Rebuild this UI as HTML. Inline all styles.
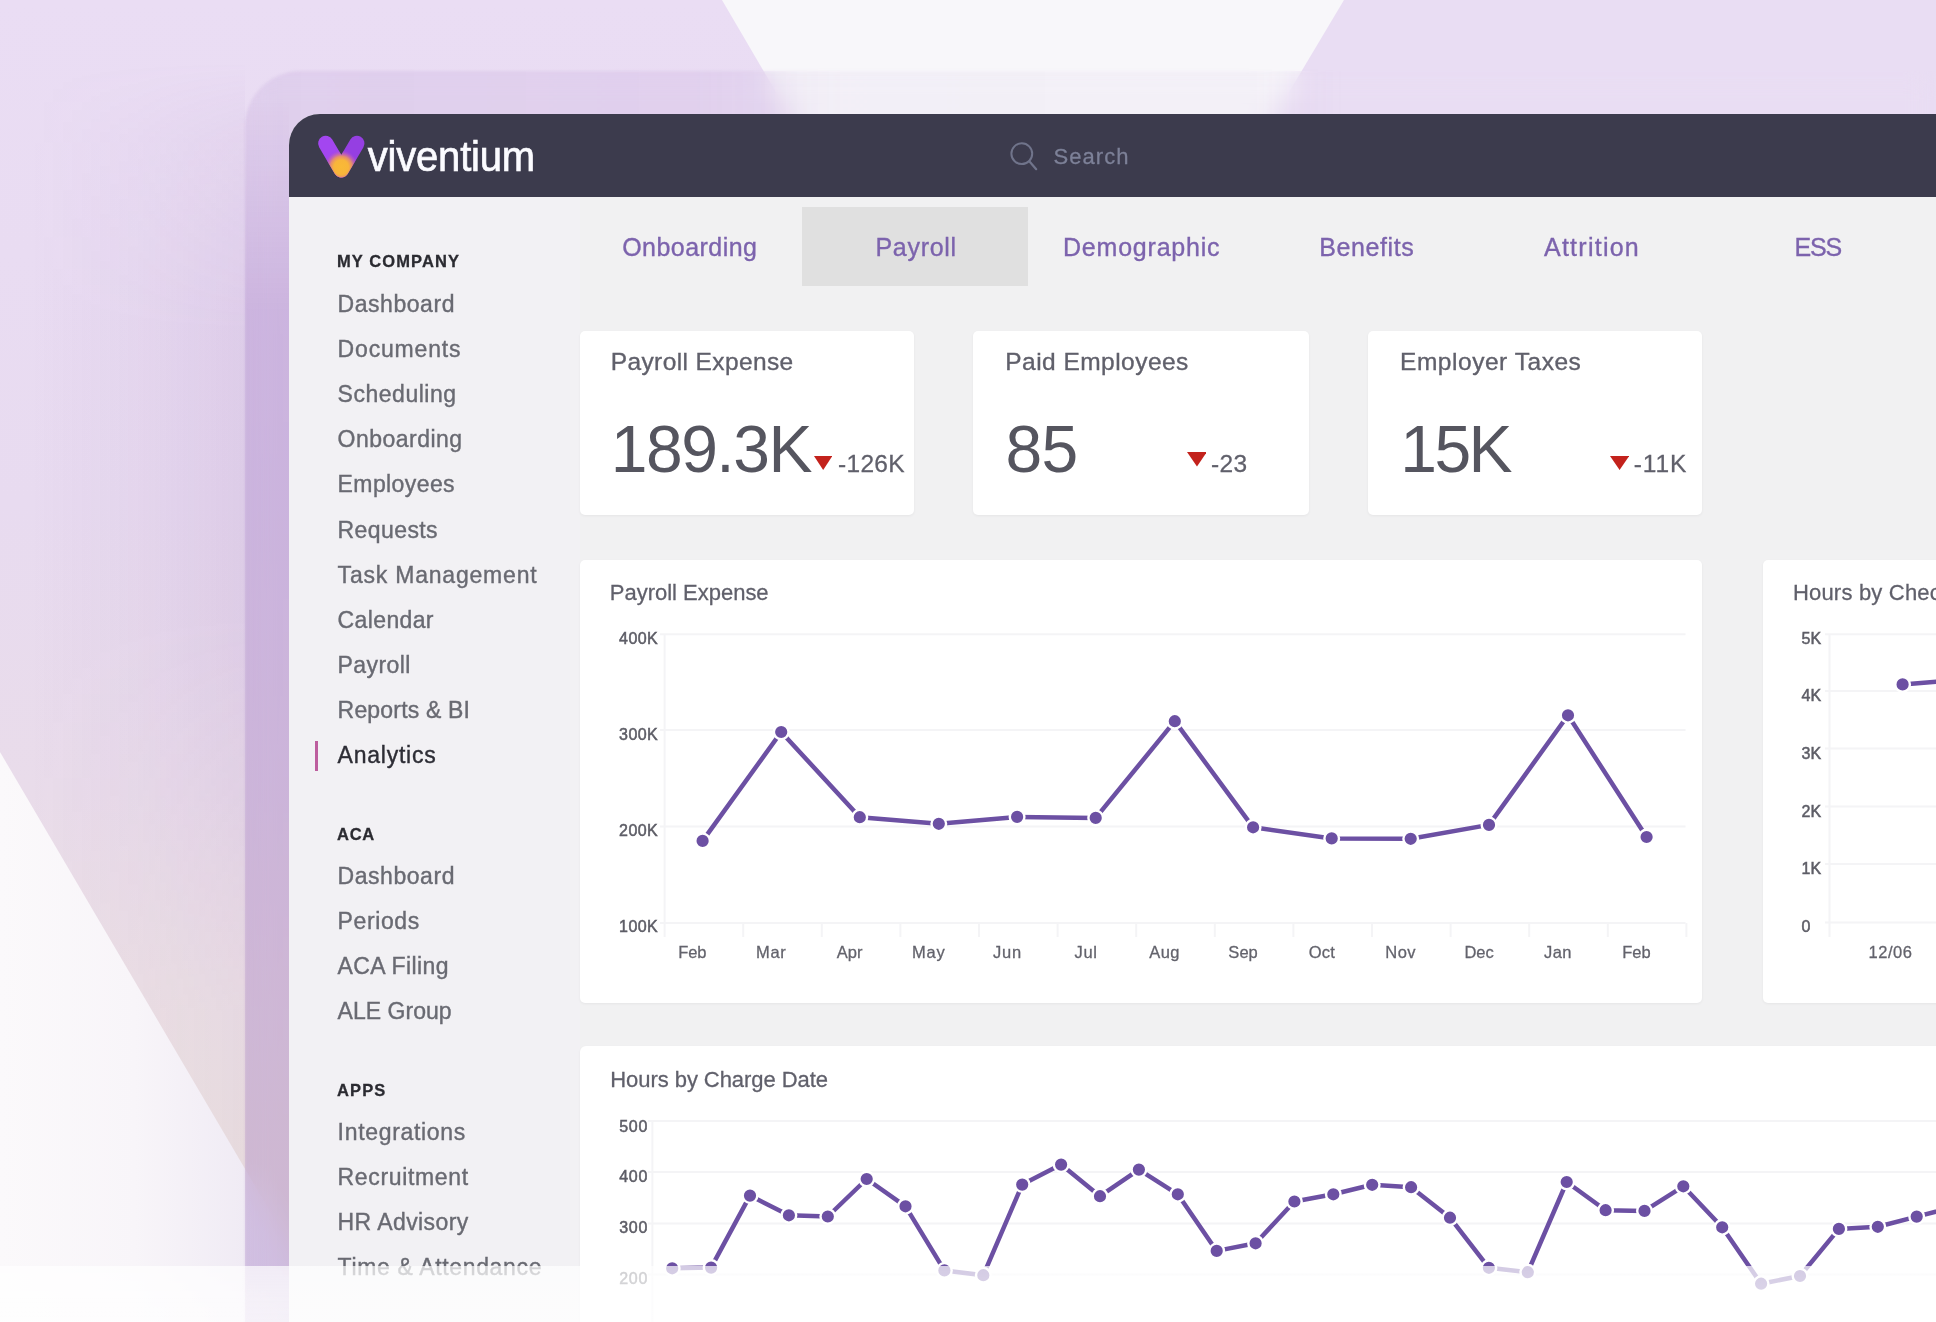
<!DOCTYPE html>
<html lang="en"><head><meta charset="utf-8"><title>Viventium Analytics – Payroll</title>
<style>
*{box-sizing:border-box;margin:0;padding:0}
html,body{width:1936px;height:1322px;overflow:hidden;background:#f8f7fa}
body{position:relative;font-family:"Liberation Sans",sans-serif;}
.a{position:absolute;display:block}
.t{position:absolute;white-space:nowrap;line-height:1;font-family:"Liberation Sans",sans-serif;-webkit-text-stroke:.28px currentColor}
#bg{position:absolute;left:0;top:0;width:1936px;height:1322px}
#glass{position:absolute;left:245px;top:70.5px;width:1800px;height:1400px;border-top-left-radius:56px;
  -webkit-backdrop-filter:blur(14px);backdrop-filter:blur(14px)}
#gtint{position:absolute;left:245px;top:70.5px;width:1800px;height:1400px;border-top-left-radius:56px;filter:blur(1.6px);
  background:linear-gradient(90deg,rgba(150,108,190,.125) 0,rgba(150,108,190,.11) 450px,rgba(150,108,190,.055) 600px,rgba(150,108,190,.05) 1000px,rgba(150,108,190,0) 1100px)}
#winsh{position:absolute;left:0;top:0;width:44px;height:1400px;
  background:linear-gradient(180deg,rgba(125,70,170,0) 0,rgba(125,70,170,0) 30px,rgba(125,70,170,.02) 48px,rgba(125,70,170,.19) 240px,rgba(125,70,170,.19) 100%)}
#shclip{position:absolute;left:245px;top:70.5px;width:1800px;height:1400px;border-top-left-radius:56px;overflow:hidden}
#win{position:absolute;left:288.6px;top:114px;width:1800px;height:1400px;border-top-left-radius:31px;background:#f1f1f2;overflow:hidden}
#hdr{position:absolute;left:0;top:0;width:100%;height:83.3px;background:#3c3b4d}
#side{position:absolute;left:0;top:83.3px;width:291px;height:1400px;background:#f2f1f4}
.card{position:absolute;background:#fff;border-radius:5px;box-shadow:0 1px 3px rgba(0,0,0,.05)}
#tabsel{position:absolute;left:802.3px;top:206.5px;width:225.5px;height:79.5px;background:#e0e0e0}
#mark{position:absolute;left:314.5px;top:741px;width:3.6px;height:29.5px;background:#bd5e9e}
#fade{position:absolute;left:0;top:1265.8px;width:1936px;height:60px;background:linear-gradient(180deg,rgba(255,255,255,.70) 0,rgba(255,255,255,.76) 30px,rgba(255,255,255,.79) 100%)}
</style></head><body>
<svg id="bg" class="a" width="1936" height="1322" viewBox="0 0 1936 1322">
<defs>
<linearGradient id="gL" x1="0" y1="0" x2="0" y2="1322" gradientUnits="userSpaceOnUse">
<stop offset="0" stop-color="#eaddf4"/><stop offset=".38" stop-color="#e8dbf0"/><stop offset=".60" stop-color="#e9dcea"/><stop offset=".74" stop-color="#ebdfe5"/><stop offset=".88" stop-color="#ece1e0"/><stop offset="1" stop-color="#ece1e0"/>
</linearGradient>
<linearGradient id="gSh" x1="30" y1="0" x2="245" y2="0" gradientUnits="userSpaceOnUse">
<stop offset="0" stop-color="#9060b0" stop-opacity="0"/><stop offset=".5" stop-color="#9060b0" stop-opacity=".045"/><stop offset="1" stop-color="#9060b0" stop-opacity=".12"/>
</linearGradient>
<linearGradient id="gShV" x1="0" y1="62" x2="0" y2="1062" gradientUnits="userSpaceOnUse">
<stop offset="0" stop-color="#fff" stop-opacity="0"/><stop offset=".08" stop-color="#fff" stop-opacity=".5"/><stop offset=".27" stop-color="#fff" stop-opacity="1"/><stop offset=".55" stop-color="#fff" stop-opacity="1"/><stop offset=".95" stop-color="#fff" stop-opacity=".4"/><stop offset="1" stop-color="#fff" stop-opacity=".4"/>
</linearGradient>
<mask id="mSh" maskUnits="userSpaceOnUse" x="0" y="0" width="245" height="1322"><rect x="0" y="0" width="245" height="1322" fill="url(#gShV)"/></mask>
<linearGradient id="gW" x1="0" y1="0" x2="300" y2="0" gradientUnits="userSpaceOnUse">
<stop offset="0" stop-color="#fbf9fb"/><stop offset=".45" stop-color="#f8f5f9"/><stop offset="1" stop-color="#ece6f2"/>
</linearGradient>
</defs>
<rect width="1936" height="1322" fill="#f8f7fa"/>
<polygon points="0,0 722,0 1497,1322 0,1322" fill="url(#gL)"/>
<rect x="0" y="0" width="245" height="1322" fill="url(#gSh)" mask="url(#mSh)"/>
<polygon points="0,752 335,1322 0,1322" fill="url(#gW)"/>
<polygon points="1344,0 1936,0 1936,1322 555,1322" fill="#e9ddf3"/>
</svg>
<div id="glass"></div><div id="gtint"></div><div id="shclip"><div id="winsh"></div></div>
<div id="win"><div id="hdr"></div><div id="side"></div></div>
<svg class="a" style="left:300px;top:120px" width="260" height="70" viewBox="300 120 260 70">
<defs>
<radialGradient id="vg3" cx="341.3" cy="167.2" r="17.5" gradientUnits="userSpaceOnUse">
<stop offset="0" stop-color="#f9ba36"/><stop offset=".42" stop-color="#f8b53a"/><stop offset=".62" stop-color="#ec9660" stop-opacity=".92"/><stop offset=".82" stop-color="#c865b0" stop-opacity=".55"/><stop offset="1" stop-color="#a048e0" stop-opacity="0"/>
</radialGradient>
<mask id="vm" maskUnits="userSpaceOnUse" x="300" y="120" width="80" height="70"><path d="M325.7 143.3 L341.3 169.9 L356.9 143.3" fill="none" stroke="#fff" stroke-width="15.2" stroke-linecap="round" stroke-linejoin="round"/></mask>
</defs>
<path d="M356.9 143.3 L341.3 169.9" fill="none" stroke="#953fe2" stroke-width="15.2" stroke-linecap="round"/>
<path d="M325.7 143.3 L341.3 169.9" fill="none" stroke="#a346f0" stroke-width="15.2" stroke-linecap="round"/>
<rect x="300" y="120" width="80" height="70" fill="url(#vg3)" mask="url(#vm)"/>
<text x="0" y="0" transform="translate(367.7 171.3) scale(.942 1)" font-family="Liberation Sans, sans-serif" font-size="42.5" fill="#fbfbff" stroke="#fbfbff" stroke-width=".7" letter-spacing="-.2">viventium</text>
</svg>
<svg class="a" style="left:1000px;top:135px" width="50" height="45" viewBox="1000 135 50 45">
<circle cx="1021.8" cy="153.7" r="10.4" fill="none" stroke="#70748b" stroke-width="2"/>
<line x1="1029.3" y1="161.3" x2="1036.2" y2="169.2" stroke="#70748b" stroke-width="2.2" stroke-linecap="round"/>
</svg><span class="t" style="left:1053.50px;top:145.58px;font-size:22px;color:#7d8198;letter-spacing:1.049px;">Search</span>
<div id="tabsel"></div>
<span class="t" style="left:622.20px;top:234.84px;font-size:25px;color:#7c63ad;letter-spacing:0.455px;-webkit-text-stroke:.35px currentColor;">Onboarding</span><span class="t" style="left:875.40px;top:234.84px;font-size:25px;color:#7c63ad;letter-spacing:0.726px;-webkit-text-stroke:.35px currentColor;">Payroll</span><span class="t" style="left:1063.00px;top:234.84px;font-size:25px;color:#7c63ad;letter-spacing:0.792px;-webkit-text-stroke:.35px currentColor;">Demographic</span><span class="t" style="left:1319.20px;top:234.84px;font-size:25px;color:#7c63ad;letter-spacing:0.621px;-webkit-text-stroke:.35px currentColor;">Benefits</span><span class="t" style="left:1544.00px;top:234.84px;font-size:25px;color:#7c63ad;letter-spacing:1.250px;-webkit-text-stroke:.35px currentColor;">Attrition</span><span class="t" style="left:1794.50px;top:234.84px;font-size:25px;color:#7c63ad;letter-spacing:-1.208px;-webkit-text-stroke:.35px currentColor;">ESS</span>
<div id="mark"></div>
<span class="t" style="left:337.60px;top:292.63px;font-size:23px;color:#696a72;letter-spacing:0.542px;-webkit-text-stroke:.38px currentColor;">Dashboard</span><span class="t" style="left:337.60px;top:337.81px;font-size:23px;color:#696a72;letter-spacing:0.830px;-webkit-text-stroke:.38px currentColor;">Documents</span><span class="t" style="left:337.60px;top:382.99px;font-size:23px;color:#696a72;letter-spacing:0.519px;-webkit-text-stroke:.38px currentColor;">Scheduling</span><span class="t" style="left:337.60px;top:428.17px;font-size:23px;color:#696a72;letter-spacing:0.470px;-webkit-text-stroke:.38px currentColor;">Onboarding</span><span class="t" style="left:337.60px;top:473.35px;font-size:23px;color:#696a72;letter-spacing:0.403px;-webkit-text-stroke:.38px currentColor;">Employees</span><span class="t" style="left:337.60px;top:518.53px;font-size:23px;color:#696a72;letter-spacing:0.404px;-webkit-text-stroke:.38px currentColor;">Requests</span><span class="t" style="left:337.60px;top:563.71px;font-size:23px;color:#696a72;letter-spacing:0.791px;-webkit-text-stroke:.38px currentColor;">Task Management</span><span class="t" style="left:337.60px;top:608.89px;font-size:23px;color:#696a72;letter-spacing:0.370px;-webkit-text-stroke:.38px currentColor;">Calendar</span><span class="t" style="left:337.60px;top:654.07px;font-size:23px;color:#696a72;letter-spacing:0.414px;-webkit-text-stroke:.38px currentColor;">Payroll</span><span class="t" style="left:337.60px;top:699.25px;font-size:23px;color:#696a72;letter-spacing:0.184px;-webkit-text-stroke:.38px currentColor;">Reports &amp; BI</span><span class="t" style="left:337.60px;top:744.43px;font-size:23px;color:#2d2d35;letter-spacing:0.752px;-webkit-text-stroke:.38px currentColor;">Analytics</span><span class="t" style="left:337.60px;top:864.83px;font-size:23px;color:#696a72;letter-spacing:0.542px;-webkit-text-stroke:.38px currentColor;">Dashboard</span><span class="t" style="left:337.60px;top:910.01px;font-size:23px;color:#696a72;letter-spacing:0.602px;-webkit-text-stroke:.38px currentColor;">Periods</span><span class="t" style="left:337.60px;top:955.19px;font-size:23px;color:#696a72;letter-spacing:0.392px;-webkit-text-stroke:.38px currentColor;">ACA Filing</span><span class="t" style="left:337.60px;top:1000.37px;font-size:23px;color:#696a72;letter-spacing:0.024px;-webkit-text-stroke:.38px currentColor;">ALE Group</span><span class="t" style="left:337.60px;top:1120.73px;font-size:23px;color:#696a72;letter-spacing:0.676px;-webkit-text-stroke:.38px currentColor;">Integrations</span><span class="t" style="left:337.60px;top:1165.91px;font-size:23px;color:#696a72;letter-spacing:0.647px;-webkit-text-stroke:.38px currentColor;">Recruitment</span><span class="t" style="left:337.60px;top:1211.09px;font-size:23px;color:#696a72;letter-spacing:0.415px;-webkit-text-stroke:.38px currentColor;">HR Advisory</span><span class="t" style="left:337.60px;top:1256.27px;font-size:23px;color:#696a72;letter-spacing:0.648px;-webkit-text-stroke:.38px currentColor;">Time &amp; Attendance</span><span class="t" style="left:337.00px;top:253.03px;font-size:16.5px;color:#2b2b31;letter-spacing:1.085px;font-weight:700;">MY COMPANY</span><span class="t" style="left:337.00px;top:825.53px;font-size:16.5px;color:#2b2b31;letter-spacing:0.751px;font-weight:700;">ACA</span><span class="t" style="left:337.00px;top:1081.53px;font-size:16.5px;color:#2b2b31;letter-spacing:1.142px;font-weight:700;">APPS</span>
<div class="card" style="left:580.3px;top:330.5px;width:333.30000000000007px;height:184.5px"></div><span class="t" style="left:610.70px;top:349.86px;font-size:24.5px;color:#60606b;letter-spacing:0.391px;-webkit-text-stroke:.35px currentColor;">Payroll Expense</span><span class="t" style="left:610.80px;top:416.23px;font-size:66px;color:#55555f;letter-spacing:-1.514px;-webkit-text-stroke:0;">189.3K</span><svg class="a" style="left:814.1px;top:456.3px" width="18.4" height="13.9"><polygon points="0,0 18.4,0 9.2,13.9" fill="#c3221c"/></svg><span class="t" style="left:838.10px;top:452.06px;font-size:24.5px;color:#60606b;letter-spacing:0.264px;">-126K</span><div class="card" style="left:973.4px;top:330.5px;width:335.19999999999993px;height:184.5px"></div><span class="t" style="left:1005.30px;top:349.86px;font-size:24.5px;color:#60606b;letter-spacing:0.461px;-webkit-text-stroke:.35px currentColor;">Paid Employees</span><span class="t" style="left:1005.40px;top:415.63px;font-size:66px;color:#55555f;letter-spacing:-0.506px;-webkit-text-stroke:0;">85</span><svg class="a" style="left:1186.5px;top:452.4px" width="19.9" height="14.5"><polygon points="0,0 19.9,0 10.0,14.5" fill="#c3221c"/></svg><span class="t" style="left:1211.00px;top:452.06px;font-size:24.5px;color:#60606b;letter-spacing:0.330px;">-23</span><div class="card" style="left:1367.6px;top:330.5px;width:334.70000000000005px;height:184.5px"></div><span class="t" style="left:1400.00px;top:349.86px;font-size:24.5px;color:#60606b;letter-spacing:0.540px;-webkit-text-stroke:.35px currentColor;">Employer Taxes</span><span class="t" style="left:1400.20px;top:415.63px;font-size:66px;color:#55555f;letter-spacing:-2.512px;-webkit-text-stroke:0;">15K</span><svg class="a" style="left:1610.1px;top:456.3px" width="19.2" height="13.9"><polygon points="0,0 19.2,0 9.6,13.9" fill="#c3221c"/></svg><span class="t" style="left:1633.80px;top:452.06px;font-size:24.5px;color:#60606b;letter-spacing:0.892px;">-11K</span>
<div class="card" style="left:580.3px;top:560.4px;width:1122.2px;height:442.4px"></div><div class="card" style="left:1763.3px;top:560.4px;width:300px;height:442.4px"></div><div class="card" style="left:579.8px;top:1046.2px;width:1500px;height:400px;border-radius:6px"></div>
<svg class="a" style="left:0;top:0" width="1936" height="1322" viewBox="0 0 1936 1322"><line x1="660" y1="634.2" x2="1685.5" y2="634.2" stroke="#f4f4f6" stroke-width="2"/><line x1="660" y1="729.9" x2="1685.5" y2="729.9" stroke="#f4f4f6" stroke-width="2"/><line x1="660" y1="826.6" x2="1685.5" y2="826.6" stroke="#f4f4f6" stroke-width="2"/><line x1="660" y1="923.0" x2="1685.5" y2="923.0" stroke="#f4f4f6" stroke-width="2"/><line x1="664.6" y1="634" x2="664.6" y2="937" stroke="#f4f4f6" stroke-width="2"/><line x1="743.2" y1="923" x2="743.2" y2="937" stroke="#f4f4f6" stroke-width="2"/><line x1="821.8" y1="923" x2="821.8" y2="937" stroke="#f4f4f6" stroke-width="2"/><line x1="900.4" y1="923" x2="900.4" y2="937" stroke="#f4f4f6" stroke-width="2"/><line x1="979.0" y1="923" x2="979.0" y2="937" stroke="#f4f4f6" stroke-width="2"/><line x1="1057.6" y1="923" x2="1057.6" y2="937" stroke="#f4f4f6" stroke-width="2"/><line x1="1136.2" y1="923" x2="1136.2" y2="937" stroke="#f4f4f6" stroke-width="2"/><line x1="1214.8" y1="923" x2="1214.8" y2="937" stroke="#f4f4f6" stroke-width="2"/><line x1="1293.4" y1="923" x2="1293.4" y2="937" stroke="#f4f4f6" stroke-width="2"/><line x1="1372.0" y1="923" x2="1372.0" y2="937" stroke="#f4f4f6" stroke-width="2"/><line x1="1450.6" y1="923" x2="1450.6" y2="937" stroke="#f4f4f6" stroke-width="2"/><line x1="1529.2" y1="923" x2="1529.2" y2="937" stroke="#f4f4f6" stroke-width="2"/><line x1="1607.8" y1="923" x2="1607.8" y2="937" stroke="#f4f4f6" stroke-width="2"/><line x1="1686.4" y1="923" x2="1686.4" y2="937" stroke="#f4f4f6" stroke-width="2"/><polyline fill="none" stroke="#6c50a3" stroke-width="4.5" stroke-linejoin="round" stroke-linecap="round" points="702.6,840.9 781.2,732.0 859.8,817.2 938.8,823.8 1017.1,816.9 1095.7,817.9 1174.8,721.2 1253.1,827.3 1331.7,838.4 1410.7,838.8 1489.0,824.9 1568.0,715.3 1646.6,837.0"/><circle cx="702.6" cy="840.9" r="7.3" fill="#6c50a3" stroke="#fff" stroke-width="2.4"/><circle cx="781.2" cy="732.0" r="7.3" fill="#6c50a3" stroke="#fff" stroke-width="2.4"/><circle cx="859.8" cy="817.2" r="7.3" fill="#6c50a3" stroke="#fff" stroke-width="2.4"/><circle cx="938.8" cy="823.8" r="7.3" fill="#6c50a3" stroke="#fff" stroke-width="2.4"/><circle cx="1017.1" cy="816.9" r="7.3" fill="#6c50a3" stroke="#fff" stroke-width="2.4"/><circle cx="1095.7" cy="817.9" r="7.3" fill="#6c50a3" stroke="#fff" stroke-width="2.4"/><circle cx="1174.8" cy="721.2" r="7.3" fill="#6c50a3" stroke="#fff" stroke-width="2.4"/><circle cx="1253.1" cy="827.3" r="7.3" fill="#6c50a3" stroke="#fff" stroke-width="2.4"/><circle cx="1331.7" cy="838.4" r="7.3" fill="#6c50a3" stroke="#fff" stroke-width="2.4"/><circle cx="1410.7" cy="838.8" r="7.3" fill="#6c50a3" stroke="#fff" stroke-width="2.4"/><circle cx="1489.0" cy="824.9" r="7.3" fill="#6c50a3" stroke="#fff" stroke-width="2.4"/><circle cx="1568.0" cy="715.3" r="7.3" fill="#6c50a3" stroke="#fff" stroke-width="2.4"/><circle cx="1646.6" cy="837.0" r="7.3" fill="#6c50a3" stroke="#fff" stroke-width="2.4"/><line x1="1825" y1="634.2" x2="1940" y2="634.2" stroke="#f4f4f6" stroke-width="2"/><line x1="1825" y1="691" x2="1940" y2="691" stroke="#f4f4f6" stroke-width="2"/><line x1="1825" y1="748.4" x2="1940" y2="748.4" stroke="#f4f4f6" stroke-width="2"/><line x1="1825" y1="806.5" x2="1940" y2="806.5" stroke="#f4f4f6" stroke-width="2"/><line x1="1825" y1="864" x2="1940" y2="864" stroke="#f4f4f6" stroke-width="2"/><line x1="1825" y1="922.4" x2="1940" y2="922.4" stroke="#f4f4f6" stroke-width="2"/><line x1="1829.5" y1="634" x2="1829.5" y2="937" stroke="#f4f4f6" stroke-width="2"/><polyline fill="none" stroke="#6c50a3" stroke-width="4.5" stroke-linejoin="round" stroke-linecap="round" points="1902.6,684.4 1945.0,680.9"/><circle cx="1902.6" cy="684.4" r="7.3" fill="#6c50a3" stroke="#fff" stroke-width="2.4"/><line x1="648" y1="1121" x2="1940" y2="1121" stroke="#f4f4f6" stroke-width="2"/><line x1="648" y1="1172" x2="1940" y2="1172" stroke="#f4f4f6" stroke-width="2"/><line x1="648" y1="1223.6" x2="1940" y2="1223.6" stroke="#f4f4f6" stroke-width="2"/><line x1="648" y1="1274.6" x2="1940" y2="1274.6" stroke="#f4f4f6" stroke-width="2"/><line x1="652.4" y1="1121" x2="652.4" y2="1330" stroke="#f4f4f6" stroke-width="2"/><polyline fill="none" stroke="#6c50a3" stroke-width="4.5" stroke-linejoin="round" stroke-linecap="round" points="672.2,1268.3 711.1,1267.6 750.0,1195.6 788.9,1215.3 827.8,1216.5 866.7,1179.0 905.5,1206.3 944.4,1270.4 983.3,1275.2 1022.2,1184.6 1061.1,1164.6 1100.0,1196.2 1138.9,1169.6 1177.8,1194.3 1216.7,1250.9 1255.6,1243.3 1294.4,1201.5 1333.3,1194.3 1372.2,1184.8 1411.1,1187.2 1450.0,1217.7 1488.9,1267.8 1527.8,1272.2 1566.7,1182.0 1605.6,1210.2 1644.5,1210.9 1683.3,1186.3 1722.2,1227.3 1761.1,1283.7 1800.0,1276.0 1838.9,1228.9 1877.8,1226.8 1916.7,1216.6 1955.6,1206.5"/><circle cx="672.2" cy="1268.3" r="7.3" fill="#6c50a3" stroke="#fff" stroke-width="2.4"/><circle cx="711.1" cy="1267.6" r="7.3" fill="#6c50a3" stroke="#fff" stroke-width="2.4"/><circle cx="750.0" cy="1195.6" r="7.3" fill="#6c50a3" stroke="#fff" stroke-width="2.4"/><circle cx="788.9" cy="1215.3" r="7.3" fill="#6c50a3" stroke="#fff" stroke-width="2.4"/><circle cx="827.8" cy="1216.5" r="7.3" fill="#6c50a3" stroke="#fff" stroke-width="2.4"/><circle cx="866.7" cy="1179.0" r="7.3" fill="#6c50a3" stroke="#fff" stroke-width="2.4"/><circle cx="905.5" cy="1206.3" r="7.3" fill="#6c50a3" stroke="#fff" stroke-width="2.4"/><circle cx="944.4" cy="1270.4" r="7.3" fill="#6c50a3" stroke="#fff" stroke-width="2.4"/><circle cx="983.3" cy="1275.2" r="7.3" fill="#6c50a3" stroke="#fff" stroke-width="2.4"/><circle cx="1022.2" cy="1184.6" r="7.3" fill="#6c50a3" stroke="#fff" stroke-width="2.4"/><circle cx="1061.1" cy="1164.6" r="7.3" fill="#6c50a3" stroke="#fff" stroke-width="2.4"/><circle cx="1100.0" cy="1196.2" r="7.3" fill="#6c50a3" stroke="#fff" stroke-width="2.4"/><circle cx="1138.9" cy="1169.6" r="7.3" fill="#6c50a3" stroke="#fff" stroke-width="2.4"/><circle cx="1177.8" cy="1194.3" r="7.3" fill="#6c50a3" stroke="#fff" stroke-width="2.4"/><circle cx="1216.7" cy="1250.9" r="7.3" fill="#6c50a3" stroke="#fff" stroke-width="2.4"/><circle cx="1255.6" cy="1243.3" r="7.3" fill="#6c50a3" stroke="#fff" stroke-width="2.4"/><circle cx="1294.4" cy="1201.5" r="7.3" fill="#6c50a3" stroke="#fff" stroke-width="2.4"/><circle cx="1333.3" cy="1194.3" r="7.3" fill="#6c50a3" stroke="#fff" stroke-width="2.4"/><circle cx="1372.2" cy="1184.8" r="7.3" fill="#6c50a3" stroke="#fff" stroke-width="2.4"/><circle cx="1411.1" cy="1187.2" r="7.3" fill="#6c50a3" stroke="#fff" stroke-width="2.4"/><circle cx="1450.0" cy="1217.7" r="7.3" fill="#6c50a3" stroke="#fff" stroke-width="2.4"/><circle cx="1488.9" cy="1267.8" r="7.3" fill="#6c50a3" stroke="#fff" stroke-width="2.4"/><circle cx="1527.8" cy="1272.2" r="7.3" fill="#6c50a3" stroke="#fff" stroke-width="2.4"/><circle cx="1566.7" cy="1182.0" r="7.3" fill="#6c50a3" stroke="#fff" stroke-width="2.4"/><circle cx="1605.6" cy="1210.2" r="7.3" fill="#6c50a3" stroke="#fff" stroke-width="2.4"/><circle cx="1644.5" cy="1210.9" r="7.3" fill="#6c50a3" stroke="#fff" stroke-width="2.4"/><circle cx="1683.3" cy="1186.3" r="7.3" fill="#6c50a3" stroke="#fff" stroke-width="2.4"/><circle cx="1722.2" cy="1227.3" r="7.3" fill="#6c50a3" stroke="#fff" stroke-width="2.4"/><circle cx="1761.1" cy="1283.7" r="7.3" fill="#6c50a3" stroke="#fff" stroke-width="2.4"/><circle cx="1800.0" cy="1276.0" r="7.3" fill="#6c50a3" stroke="#fff" stroke-width="2.4"/><circle cx="1838.9" cy="1228.9" r="7.3" fill="#6c50a3" stroke="#fff" stroke-width="2.4"/><circle cx="1877.8" cy="1226.8" r="7.3" fill="#6c50a3" stroke="#fff" stroke-width="2.4"/><circle cx="1916.7" cy="1216.6" r="7.3" fill="#6c50a3" stroke="#fff" stroke-width="2.4"/></svg>
<span class="t" style="left:609.80px;top:581.78px;font-size:22px;color:#60606b;letter-spacing:-0.012px;">Payroll Expense</span><span class="t" style="left:619.06px;top:630.86px;font-size:16px;color:#5d5d66;letter-spacing:0.458px;-webkit-text-stroke:.5px currentColor;">400K</span><span class="t" style="left:619.06px;top:726.56px;font-size:16px;color:#5d5d66;letter-spacing:0.458px;-webkit-text-stroke:.5px currentColor;">300K</span><span class="t" style="left:619.06px;top:822.96px;font-size:16px;color:#5d5d66;letter-spacing:0.458px;-webkit-text-stroke:.5px currentColor;">200K</span><span class="t" style="left:619.06px;top:918.86px;font-size:16px;color:#5d5d66;letter-spacing:0.458px;-webkit-text-stroke:.5px currentColor;">100K</span><span class="t" style="left:678.13px;top:943.83px;font-size:16.5px;color:#63636c;letter-spacing:-0.044px;">Feb</span><span class="t" style="left:756.11px;top:943.83px;font-size:16.5px;color:#63636c;letter-spacing:0.661px;">Mar</span><span class="t" style="left:836.78px;top:943.83px;font-size:16.5px;color:#63636c;letter-spacing:0.041px;">Apr</span><span class="t" style="left:911.98px;top:943.83px;font-size:16.5px;color:#63636c;letter-spacing:0.776px;">May</span><span class="t" style="left:992.92px;top:943.83px;font-size:16.5px;color:#63636c;letter-spacing:0.799px;">Jun</span><span class="t" style="left:1074.38px;top:943.83px;font-size:16.5px;color:#63636c;letter-spacing:0.769px;">Jul</span><span class="t" style="left:1149.35px;top:943.83px;font-size:16.5px;color:#63636c;letter-spacing:0.347px;">Aug</span><span class="t" style="left:1228.37px;top:943.83px;font-size:16.5px;color:#63636c;letter-spacing:0.014px;">Sep</span><span class="t" style="left:1308.73px;top:943.83px;font-size:16.5px;color:#63636c;letter-spacing:0.177px;">Oct</span><span class="t" style="left:1385.26px;top:943.83px;font-size:16.5px;color:#63636c;letter-spacing:0.486px;">Nov</span><span class="t" style="left:1464.41px;top:943.83px;font-size:16.5px;color:#63636c;letter-spacing:0.019px;">Dec</span><span class="t" style="left:1544.01px;top:943.83px;font-size:16.5px;color:#63636c;letter-spacing:0.466px;">Jan</span><span class="t" style="left:1622.32px;top:943.83px;font-size:16.5px;color:#63636c;letter-spacing:-0.077px;">Feb</span><span class="t" style="left:1792.90px;top:581.78px;font-size:22px;color:#60606b;letter-spacing:0.200px;">Hours by Check Date</span><span class="t" style="left:1801.60px;top:631.26px;font-size:16px;color:#5d5d66;letter-spacing:-0.100px;-webkit-text-stroke:.5px currentColor;">5K</span><span class="t" style="left:1801.60px;top:688.46px;font-size:16px;color:#5d5d66;letter-spacing:-0.100px;-webkit-text-stroke:.5px currentColor;">4K</span><span class="t" style="left:1801.60px;top:745.96px;font-size:16px;color:#5d5d66;letter-spacing:-0.100px;-webkit-text-stroke:.5px currentColor;">3K</span><span class="t" style="left:1801.60px;top:804.16px;font-size:16px;color:#5d5d66;letter-spacing:-0.100px;-webkit-text-stroke:.5px currentColor;">2K</span><span class="t" style="left:1801.60px;top:861.46px;font-size:16px;color:#5d5d66;letter-spacing:-0.100px;-webkit-text-stroke:.5px currentColor;">1K</span><span class="t" style="left:1801.60px;top:918.86px;font-size:16px;color:#5d5d66;letter-spacing:-0.100px;-webkit-text-stroke:.5px currentColor;">0</span><span class="t" style="left:1868.47px;top:943.83px;font-size:16.5px;color:#63636c;letter-spacing:0.542px;">12/06</span><span class="t" style="left:610.30px;top:1068.88px;font-size:22px;color:#60606b;letter-spacing:-0.064px;">Hours by Charge Date</span><span class="t" style="left:619.17px;top:1118.86px;font-size:16px;color:#5d5d66;letter-spacing:0.768px;-webkit-text-stroke:.5px currentColor;">500</span><span class="t" style="left:619.17px;top:1169.16px;font-size:16px;color:#5d5d66;letter-spacing:0.768px;-webkit-text-stroke:.5px currentColor;">400</span><span class="t" style="left:619.17px;top:1220.26px;font-size:16px;color:#5d5d66;letter-spacing:0.768px;-webkit-text-stroke:.5px currentColor;">300</span><span class="t" style="left:619.17px;top:1271.36px;font-size:16px;color:#5d5d66;letter-spacing:0.768px;-webkit-text-stroke:.5px currentColor;">200</span>
<div id="fade"></div>
</body></html>
